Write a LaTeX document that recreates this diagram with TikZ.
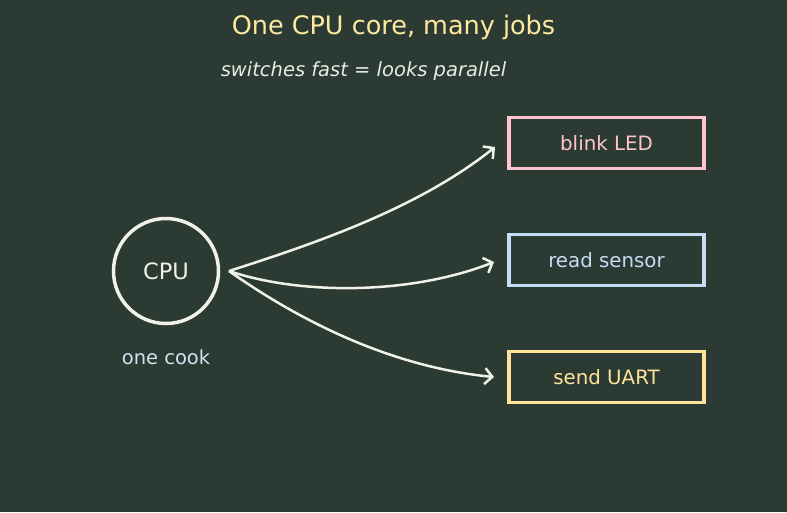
\documentclass[tikz,border=0pt]{standalone}
\usepackage{fontspec}
\setmainfont{DejaVu Sans}
\usetikzlibrary{arrows.meta}
\definecolor{bg}{HTML}{2B3A33}
\definecolor{titlec}{HTML}{FDE9A0}
\definecolor{subc}{HTML}{E8ECE6}
\definecolor{linec}{HTML}{F0F2E8}
\definecolor{cookc}{HTML}{CFE3F0}
\definecolor{pinkc}{HTML}{FFC4CF}
\definecolor{bluec}{HTML}{C6DCF5}
\definecolor{yellc}{HTML}{FDE49A}
\tikzset{
  job/.style={draw=#1, text=#1, line width=3.3pt, minimum width=195pt, minimum height=51pt, inner sep=0pt, font=\fontsize{19.8}{22}\selectfont},
  conn/.style={draw=linec, line width=2.5pt, -{Straight Barb[length=7.5pt,width=16pt,line width=2.5pt]}}
}
\begin{document}
\begin{tikzpicture}[x=1pt,y=-1pt]
\fill[bg] (0,0) rectangle (787,512);
\useasboundingbox (0,0) rectangle (787,512);
\node[text=titlec, font=\fontsize{25.5}{28}\selectfont] (title) at (393.5,27.5) {One CPU core, many jobs};
\node[text=subc, font=\fontsize{19.5}{22}\selectfont\itshape] (sub) at (363.5,71.5) {switches fast = looks parallel};
\node[circle, draw=linec, line width=3.5pt, minimum size=105pt, inner sep=0pt, text=linec, font=\fontsize{22.5}{26}\selectfont] (cpu) at (166,271) {CPU};
\node[text=cookc, font=\fontsize{19.5}{22}\selectfont] (cook) at (166,357) {one cook};
\node[job=pinkc] (led) at (606.5,143) {blink LED};
\node[job=bluec] (sensor) at (606.5,260) {read sensor};
\node[job=yellc] (uart) at (606.5,377) {send UART};
\coordinate (s) at (229,271);
\coordinate (e1) at (495,147);
\coordinate (e2) at (494,262);
\coordinate (e3) at (494,377);
\draw[conn] (s) .. controls (320,242) and (420,207) .. (e1);
\draw[conn] (s) .. controls (300,295) and (410,295) .. (e2);
\draw[conn] (s) .. controls (310,328) and (400,368) .. (e3);
\end{tikzpicture}
\end{document}
